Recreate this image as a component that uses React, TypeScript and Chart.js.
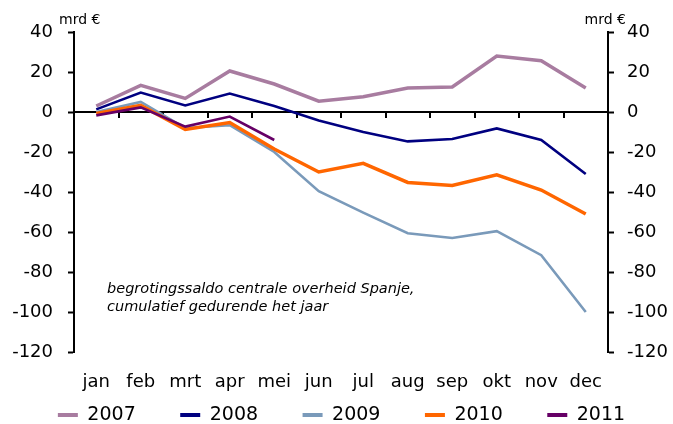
import React, { useEffect, useRef } from "react";
import { Chart, registerables } from "chart.js";

Chart.register(...registerables);

const months = ["jan", "feb", "mrt", "apr", "mei", "jun", "jul", "aug", "sep", "okt", "nov", "dec"];
const years = ["2007", "2008", "2009", "2010", "2011"];
const s2007 = [3, 13.3, 6.8, 20.5, 14, 5.4, 7.6, 12, 12.5, 28, 25.6, 12];
const s2008 = [1.3, 9.7, 3.3, 9.2, 3, -4.3, -10, -14.7, -13.5, -8.2, -14, -31];
const s2009 = [0, 5, -8, -6.6, -20, -39.6, -50.3, -60.6, -63, -59.6, -71.6, -100];
const s2010 = [-0.7, 3.3, -8.7, -5.3, -18.5, -30, -25.7, -35.2, -36.7, -31.4, -39, -51];
const s2011 = [-1.7, 2.3, -7.3, -2.3, -14];
const colors = ["#A87CA0", "#000080", "#7A9ABA", "#FF6600", "#660066"];
const widths = [3.5, 2.6, 2.6, 3.5, 2.6];
const yTicks = { min: -120, max: 40, step: 20 };
const unitLabel = "mrd €";
const noteLines = ["begrotingssaldo centrale overheid Spanje,", "cumulatief gedurende het jaar"];

const FONT = '"DejaVu Sans", Verdana, sans-serif';

const decorPlugin = {
  id: "decor",
  beforeDatasetsDraw(chart: any) {
    const { ctx, chartArea, scales } = chart;
    const y0 = scales.y.getPixelForValue(0);
    const x = scales.x;
    ctx.save();
    ctx.strokeStyle = "#000";
    ctx.lineWidth = 2;
    ctx.beginPath();
    ctx.moveTo(chartArea.left, y0);
    ctx.lineTo(chartArea.right, y0);
    ctx.stroke();
    const half = (x.getPixelForValue(1) - x.getPixelForValue(0)) / 2;
    for (let i = 1; i < months.length; i++) {
      const px = Math.round(x.getPixelForValue(i) - half);
      ctx.beginPath();
      ctx.moveTo(px, y0);
      ctx.lineTo(px, y0 + 6);
      ctx.stroke();
    }
    ctx.restore();
  },
  afterDraw(chart: any) {
    const { ctx, chartArea, scales } = chart;
    ctx.save();
    ctx.fillStyle = "#000";
    ctx.textBaseline = "middle";
    ctx.font = `14px ${FONT}`;
    ctx.textAlign = "left";
    ctx.fillText(unitLabel, chartArea.left - 15, 20);
    ctx.textAlign = "right";
    ctx.fillText(unitLabel, chartArea.right + 18, 20);
    ctx.font = `italic 14.5px ${FONT}`;
    ctx.textAlign = "left";
    const y = scales.y;
    ctx.fillText(noteLines[0], chartArea.left + 33, y.getPixelForValue(-88.5));
    ctx.fillText(noteLines[1], chartArea.left + 33, y.getPixelForValue(-97.5));
    ctx.restore();
  },
};

export default function App() {
  const ref = useRef<HTMLCanvasElement | null>(null);
  useEffect(() => {
    if (!ref.current) return;
    const series = [s2007, s2008, s2009, s2010, s2011];
    const yAxisCommon = (pad: number, width: number) => ({
      min: yTicks.min,
      max: yTicks.max,
      ticks: {
        stepSize: yTicks.step,
        color: "#000",
        padding: pad,
        font: { family: FONT, size: 18 },
      },
      grid: {
        display: true,
        drawOnChartArea: false,
        drawTicks: true,
        tickLength: 6,
        tickWidth: 2,
        color: "#000",
      },
      border: { display: true, color: "#000", width: 2 },
      afterFit: (s: any) => {
        s.width = width;
      },
    });
    const chart = new Chart(ref.current, {
      type: "line",
      data: {
        labels: months,
        datasets: series.map((d, i) => ({
          label: years[i],
          data: d,
          borderColor: colors[i],
          backgroundColor: colors[i],
          borderWidth: widths[i],
          pointRadius: 0,
          pointHoverRadius: 0,
          fill: false,
          tension: 0,
          order: 5 - i,
          yAxisID: "y",
        })),
      },
      options: {
        animation: false,
        responsive: false,
        devicePixelRatio: 1,
        layout: { padding: { left: 10, right: 0, top: 32, bottom: -10.5 } },
        plugins: {
          tooltip: { enabled: false },
          legend: {
            position: "bottom",
            align: "center",
            labels: {
              boxWidth: 20,
              boxHeight: 4,
              padding: 44.5,
              color: "#000",
              font: { family: FONT, size: 19 },
              sort: (a: any, b: any) => a.datasetIndex - b.datasetIndex,
              generateLabels: (c: any) =>
                Chart.defaults.plugins.legend.labels.generateLabels(c).map((it: any) => ({
                  ...it,
                  lineWidth: 0,
                  fillStyle: colors[it.datasetIndex],
                  strokeStyle: colors[it.datasetIndex],
                })),
            },
          },
        },
        scales: {
          x: {
            type: "category",
            offset: true,
            grid: { display: false, drawTicks: false },
            border: { display: false },
            ticks: {
              color: "#000",
              mirror: true,
              padding: -41,
              maxRotation: 0,
              autoSkip: false,
              font: { family: FONT, size: 18 },
            },
            afterFit: (s: any) => {
              s.height = 9;
            },
          },
          y: { position: "left", ...yAxisCommon(15, 64) },
          y2: { position: "right", ...yAxisCommon(13, 65) },
        },
      } as any,
      plugins: [decorPlugin],
    });
    return () => chart.destroy();
  }, []);
  return (
    <div style={{ position: "absolute", left: 0, top: 0, width: 673, height: 424, background: "#fff" }}>
      <canvas ref={ref} width={673} height={424} style={{ display: "block" }} />
    </div>
  );
}
